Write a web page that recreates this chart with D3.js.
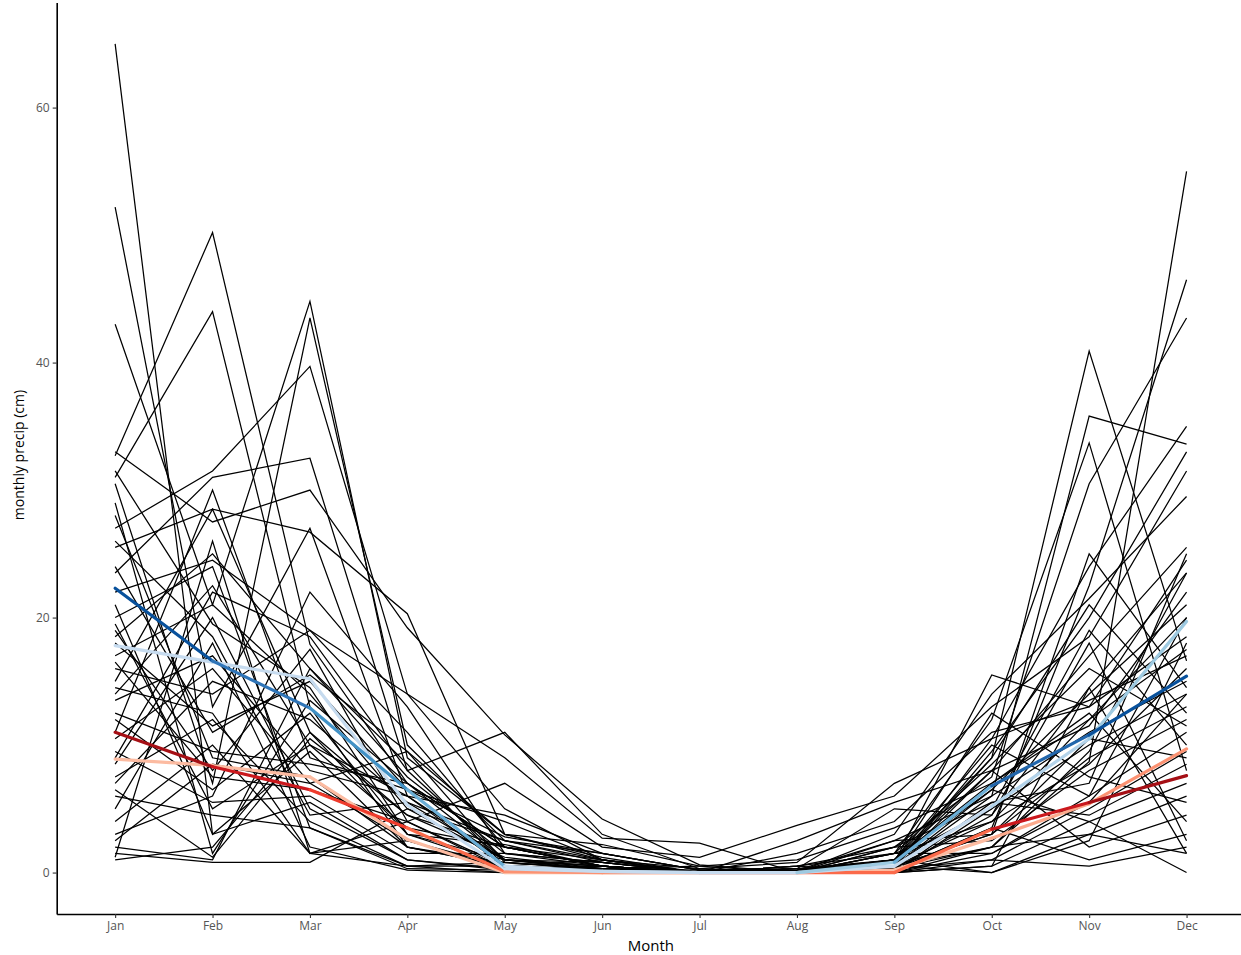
<!DOCTYPE html>
<html>
<head>
<meta charset="utf-8">
<script src="https://cdn.jsdelivr.net/npm/d3@7"></script>
<style>
body { margin: 0; background: #fff; }
text { font-family: "Open Sans", "DejaVu Sans", sans-serif; }
</style>
</head>
<body>
<div id="chart"></div>
<script>
//////////////////////////////////////////////////////////////////////////////
// Data

var months = ["Jan", "Feb", "Mar", "Apr", "May", "Jun", "Jul", "Aug", "Sep", "Oct", "Nov", "Dec"];
var yTicks = [0, 20, 40, 60];

// one row per year, monthly precip (cm)
var years = [
    [65.0,  3.0,  9.5,  2.0,  0.5, 0.2, 0.0, 0.0, 0.3,  2.0,  8.7, 55.0],
    [52.2, 13.0, 27.0,  6.0,  1.0, 0.5, 0.0, 0.0, 0.5,  4.0, 12.0, 20.0],
    [32.7, 50.2, 17.9,  7.0,  2.0, 0.5, 0.0, 0.2, 1.0,  9.0, 40.9, 16.6],
    [43.0, 21.0, 44.8,  9.0,  3.0, 1.0, 0.0, 0.0, 0.2,  3.5, 22.5, 46.5],
    [31.0, 44.0, 13.0,  2.0,  0.8, 0.3, 0.1, 0.1, 0.5,  6.0, 35.8, 33.6],
    [30.5,  7.0, 43.5, 10.0,  2.5, 1.5, 0.2, 0.0, 1.5, 12.0, 33.7,  8.0],
    [27.0, 31.5, 39.7, 14.0,  5.0, 1.0, 0.0, 0.5, 2.0,  7.5, 30.5, 43.5],
    [25.5, 28.5, 26.7, 20.3,  3.0, 2.2, 0.5, 0.0, 0.8, 15.5, 13.0, 24.5],
    [23.5, 31.0, 32.5,  8.0, 11.0, 3.0, 0.3, 0.8, 7.0, 10.5, 24.0, 35.0],
    [33.0, 27.5, 30.0, 19.2, 10.8, 4.2, 0.6, 0.0, 3.0, 14.0, 21.5, 29.5],
    [22.0, 24.5, 19.0, 14.0,  9.0, 2.7, 2.3, 0.0, 0.5,  9.5, 20.0, 33.0],
    [19.0,  8.0, 17.5,  4.0,  7.0, 2.0, 1.2, 3.7, 6.0, 13.0, 18.5, 31.5],
    [18.5, 25.0, 16.0,  7.5,  1.5, 0.8, 0.0, 2.5, 5.5,  8.0, 17.0, 25.5],
    [18.0, 11.5, 15.0,  6.5,  2.8, 1.5, 0.2, 0.3, 5.0,  4.5, 14.5, 23.5],
    [17.0, 21.0, 14.0,  5.0,  2.5, 1.0, 0.0, 1.5, 4.0, 11.0, 13.0, 18.5],
    [15.0, 28.5, 11.0,  4.5,  1.2, 0.3, 0.5, 1.0, 3.5,  7.0, 12.0, 17.5],
    [14.0, 22.5, 10.0,  3.5,  2.0, 0.5, 0.0, 0.0, 2.5,  6.0, 11.0, 15.0],
    [13.5, 17.0,  8.0,  6.0,  0.5, 0.2, 0.0, 0.3, 1.0,  5.0, 10.0, 14.0],
    [12.0,  6.5, 12.5,  3.0,  1.0, 0.5, 0.0, 0.0, 0.5,  3.0,  9.0, 13.0],
    [10.5, 16.0,  7.0,  2.5,  0.3, 0.2, 0.0, 0.0, 2.0,  2.5,  8.0, 12.0],
    [ 9.5,  5.5,  6.0,  1.5,  1.5, 0.8, 0.0, 0.5, 1.5,  1.5,  6.0, 11.0],
    [ 8.5, 20.0,  5.0,  1.0,  0.2, 0.0, 0.0, 0.0, 0.3,  1.0,  5.0,  9.5],
    [ 7.5, 12.0,  4.0,  0.5,  0.8, 0.3, 0.2, 0.0, 0.0,  0.5,  4.0,  7.0],
    [ 6.0,  4.5,  3.5,  0.3,  0.2, 0.0, 0.0, 0.2, 1.0,  0.0,  3.0,  6.0],
    [ 5.0, 18.0,  2.0,  0.2,  0.0, 0.0, 0.0, 0.0, 0.5,  8.0,  2.0,  4.5],
    [ 4.0, 10.0,  1.5,  0.5,  0.0, 0.0, 0.0, 0.0, 0.2,  3.5,  1.0,  3.0],
    [ 2.0,  1.0, 16.0,  8.5,  0.5, 0.3, 0.0, 0.0, 0.0,  1.0,  0.5,  2.0],
    [ 1.5,  0.8,  0.8,  5.0,  1.0, 0.2, 0.0, 0.0, 0.0,  0.5, 14.5,  1.5],
    [ 1.2, 26.0,  1.5,  4.0,  0.3, 0.0, 0.0, 0.0, 0.5,  6.5,  4.0,  0.0],
    [ 1.0,  2.0, 11.0,  3.0,  0.5, 0.0, 0.0, 0.0, 0.0,  2.0,  9.5, 23.5],
    [29.0,  1.5, 13.5,  7.0,  1.0, 0.5, 0.0, 0.0, 1.0, 10.0,  6.0, 20.0],
    [28.0,  9.0,  7.5,  2.0,  0.5, 1.0, 0.0, 0.0, 0.3,  4.5, 18.0,  2.5],
    [21.0,  3.0,  5.5,  1.0,  0.3, 0.5, 0.0, 0.0, 0.5,  2.0,  3.0,  1.5],
    [16.0, 14.0, 19.0, 11.0,  2.0, 1.0, 0.0, 0.0, 1.5,  8.5, 16.0, 11.5],
    [11.0, 30.0,  9.0,  6.5,  4.0, 1.0, 0.3, 0.0, 2.0,  5.5,  7.0, 25.0],
    [26.0, 18.5,  4.5,  5.5,  2.5, 0.8, 0.0, 0.0, 0.5,  3.0, 10.5,  9.0],
    [ 3.0,  6.0, 22.0, 13.0,  1.5, 0.5, 0.0, 0.5, 0.0,  1.5,  5.5, 14.0],
    [20.0, 24.0,  3.5,  0.5,  0.5, 0.0, 0.0, 0.0, 1.0,  7.0, 12.5,  4.0],
    [ 6.5,  1.2, 10.5,  4.5,  2.0, 0.5, 0.0, 0.0, 0.0,  5.0, 19.0, 10.0],
    [14.5, 12.5,  1.5,  2.5,  0.5, 0.0, 0.0, 0.0, 0.5,  0.0,  2.5, 18.0],
    [24.0, 11.0, 15.5,  9.5,  3.0, 1.2, 0.0, 0.0, 1.0,  6.5, 14.0, 21.0],
    [12.5,  9.5,  8.5,  7.0,  2.0, 0.5, 0.0, 0.3, 0.5,  9.0, 21.0, 12.5],
    [ 7.0, 15.0, 12.0,  5.5,  1.0, 0.8, 0.0, 0.0, 1.5,  4.0,  8.5, 16.0],
    [19.5,  5.0, 10.0,  6.0,  4.5, 1.5, 0.2, 0.0, 0.8, 12.5,  7.5,  5.5],
    [ 9.0, 22.0, 18.5,  8.0,  1.0, 0.3, 0.0, 0.2, 2.5,  3.0, 25.0, 14.5],
    [16.5,  7.5,  6.5,  4.0,  0.5, 0.0, 0.0, 0.0, 0.0,  5.5,  4.5,  8.5],
    [31.5, 19.5, 14.5,  3.0,  2.2, 0.5, 0.0, 0.0, 1.0,  8.0, 11.5, 22.0],
    [ 2.5,  8.5,  7.0,  9.5,  0.8, 0.2, 0.0, 0.0, 0.3, 10.5, 13.5, 17.0]
];

// summary lines
var blueDark  = [22.3, 16.6, 12.9, 6.5, 0.5, 0.1, 0.0, 0.0, 0.8, 6.8, 10.8, 15.4];
var blueLight = [17.8, 16.5, 15.2, 5.3, 0.3, 0.1, 0.0, 0.0, 0.5, 5.2, 10.5, 19.7];
var redDark   = [11.0,  8.3,  6.5, 3.5, 0.1, 0.0, 0.0, 0.0, 0.0, 3.4,  5.5,  7.6];
var redLight  = [ 8.9,  8.4,  7.5, 2.6, 0.0, 0.0, 0.0, 0.0, 0.2, 2.7,  5.4,  9.7];

//////////////////////////////////////////////////////////////////////////////
// Scales, svg

var width = 1241, height = 955;

var xScale = d3.scaleLinear().domain([0.4, 12.6]).range([56.7, 1245]);
var yScale = d3.scaleLinear().domain([-3.25, 68.25]).range([914, 2.4]);

var svg = d3.select("#chart")
    .append("svg")
    .attr("width", width)
    .attr("height", height);

var line = d3.line()
    .x(function(d, i) { return xScale(i + 1); })
    .y(function(d) { return yScale(d); });

// coloured segments, one colour per month-to-month step
function drawSegments(values, colours, w)
{
    var segs = d3.range(11).map(function(i) {
        return { i: i, a: values[i], b: values[i + 1], c: colours[i] };
    });
    svg.append("g")
        .selectAll("line")
        .data(segs)
        .enter()
        .append("line")
        .attr("x1", function(d) { return xScale(d.i + 1); })
        .attr("x2", function(d) { return xScale(d.i + 2); })
        .attr("y1", function(d) { return yScale(d.a); })
        .attr("y2", function(d) { return yScale(d.b); })
        .attr("stroke", function(d) { return d.c; })
        .attr("stroke-width", w)
        .attr("stroke-linecap", "round");
}

//////////////////////////////////////////////////////////////////////////////
// Year lines

svg.append("g")
    .selectAll("path")
    .data(years)
    .enter()
    .append("path")
    .attr("d", line)
    .attr("fill", "none")
    .attr("stroke", "#000")
    .attr("stroke-width", 1.25);

// red summaries
drawSegments(redLight,
    ["#fcbba1", "#fcbba1", "#fcbba1", "#fcbba1", "#fcbba1", "#fcbba1",
     "#fcbba1", "#fcbba1", "#fcbba1", "#fcaa8d", "#fc9272"], 3.2);
drawSegments(redDark,
    ["#a50f15", "#cb181d", "#ef3b2c", "#fb6a4a", "#fc9272", "#fc9272",
     "#fb6a4a", "#fb6a4a", "#fb6a4a", "#cb181d", "#a50f15"], 3.2);

// blue summaries
drawSegments(blueLight,
    ["#c6dbef", "#c6dbef", "#c6dbef", "#c6dbef", "#c6dbef", "#c6dbef",
     "#c6dbef", "#c6dbef", "#c6dbef", "#b3d3ea", "#9ecae1"], 3.2);
drawSegments(blueDark,
    ["#08519c", "#2f75b8", "#4292c6", "#6baed6", "#c6dbef", "#c6dbef",
     "#c6dbef", "#9ecae1", "#6baed6", "#2166ac", "#08519c"], 3.2);

//////////////////////////////////////////////////////////////////////////////
// Axes

var xAxis = svg.append("g")
    .attr("transform", "translate(0," + 914 + ")")
    .call(d3.axisBottom(xScale)
        .tickValues(d3.range(1, 13))
        .tickFormat(function(d) { return months[d - 1]; })
        .tickSize(4)
        .tickSizeOuter(0)
        .tickPadding(3));

var yAxis = svg.append("g")
    .attr("transform", "translate(" + 56.7 + ",0)")
    .call(d3.axisLeft(yScale)
        .tickValues(yTicks)
        .tickSize(4)
        .tickSizeOuter(0)
        .tickPadding(3));

[xAxis, yAxis].forEach(function(a) {
    a.select(".domain").attr("stroke", "#000").attr("stroke-width", 1.6);
    a.selectAll(".tick line").attr("stroke", "#333").attr("stroke-width", 1.1);
    a.selectAll(".tick text")
        .attr("fill", "#555555")
        .style("font-size", "12px")
        .style("font-family", "'Open Sans', sans-serif");
});

svg.append("text")
    .attr("x", (56.7 + 1245) / 2)
    .attr("y", 951)
    .attr("text-anchor", "middle")
    .style("font-size", "15px")
    .attr("fill", "#000")
    .text("Month");

svg.append("text")
    .attr("transform", "translate(24," + 455 + ") rotate(-90)")
    .attr("text-anchor", "middle")
    .style("font-size", "14px")
    .attr("fill", "#000")
    .text("monthly precip (cm)");
</script>
</body>
</html>
